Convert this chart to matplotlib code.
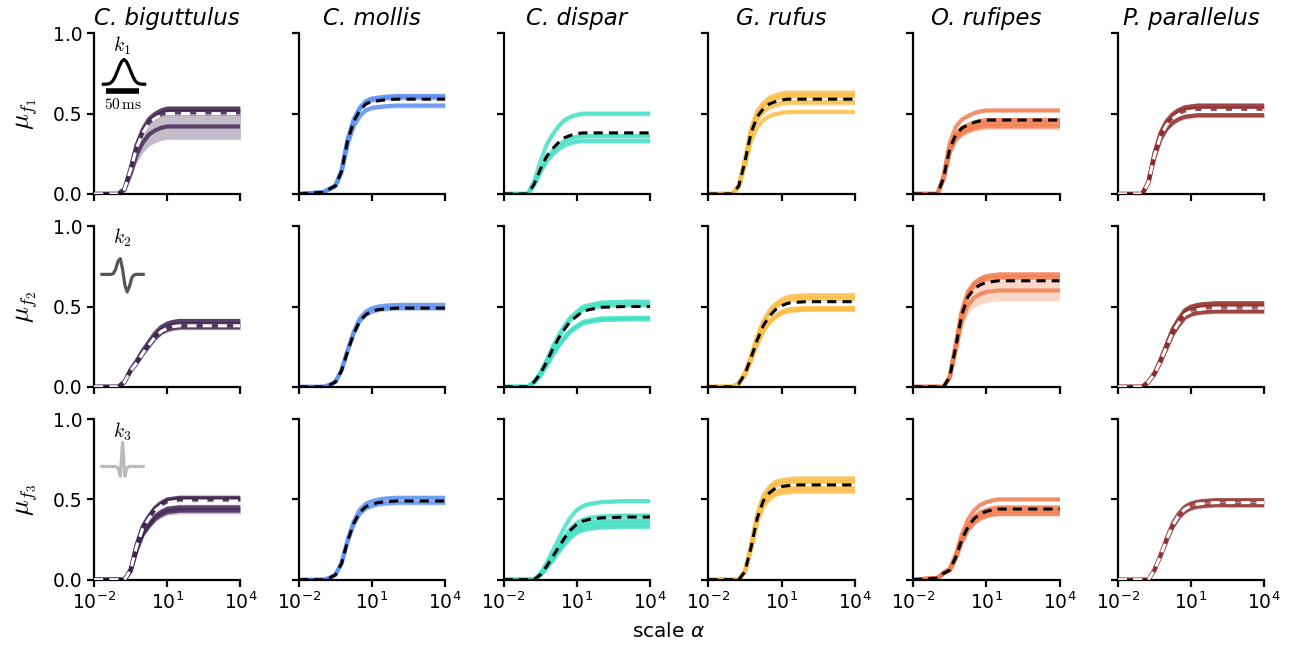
import numpy as np
import matplotlib.pyplot as plt

species = ['C. biguttulus', 'C. mollis', 'C. dispar', 'G. rufus', 'O. rufipes', 'P. parallelus']
colors = ['#402350', '#5b8ff0', '#40e0c4', '#fbbd45', '#f27b4e', '#8c2828']
mean_colors = ['white', 'black', 'black', 'black', 'black', 'white']

log_alpha = [-2, -1, -0.75, -0.5, -0.25, 0, 0.25, 0.5, 0.75, 1, 1.25, 1.5, 2, 3, 4]

# mean response per species, one list per feature row
mean_f1 = [
    [0, 0, 0.03, 0.15, 0.29, 0.38, 0.44, 0.47, 0.49, 0.50, 0.50, 0.50, 0.50, 0.50, 0.50],
    [0, 0.01, 0.03, 0.05, 0.14, 0.33, 0.45, 0.52, 0.56, 0.575, 0.58, 0.585, 0.59, 0.59, 0.59],
    [0, 0, 0.06, 0.15, 0.23, 0.28, 0.32, 0.35, 0.365, 0.375, 0.38, 0.38, 0.38, 0.38, 0.38],
    [0, 0, 0.05, 0.20, 0.38, 0.48, 0.53, 0.56, 0.575, 0.585, 0.59, 0.59, 0.59, 0.59, 0.59],
    [0, 0, 0.10, 0.28, 0.37, 0.41, 0.43, 0.445, 0.455, 0.46, 0.46, 0.46, 0.46, 0.46, 0.46],
    [0, 0, 0.07, 0.24, 0.36, 0.43, 0.47, 0.495, 0.51, 0.515, 0.52, 0.52, 0.52, 0.52, 0.52],
]
mean_f2 = [
    [0, 0, 0.03, 0.10, 0.15, 0.21, 0.26, 0.31, 0.345, 0.365, 0.375, 0.38, 0.38, 0.38, 0.38],
    [0, 0, 0.01, 0.03, 0.10, 0.22, 0.33, 0.41, 0.45, 0.47, 0.48, 0.485, 0.49, 0.49, 0.49],
    [0, 0, 0.03, 0.08, 0.15, 0.23, 0.30, 0.36, 0.41, 0.44, 0.47, 0.48, 0.495, 0.50, 0.50],
    [0, 0, 0.02, 0.08, 0.18, 0.29, 0.38, 0.44, 0.48, 0.505, 0.52, 0.525, 0.53, 0.53, 0.53],
    [0, 0, 0, 0.06, 0.25, 0.45, 0.56, 0.61, 0.635, 0.65, 0.655, 0.66, 0.66, 0.66, 0.66],
    [0, 0, 0.03, 0.08, 0.16, 0.25, 0.34, 0.40, 0.45, 0.47, 0.48, 0.485, 0.49, 0.49, 0.49],
]
mean_f3 = [
    [0, 0, 0, 0.06, 0.21, 0.32, 0.38, 0.43, 0.46, 0.48, 0.485, 0.49, 0.49, 0.49, 0.49],
    [0, 0, 0.01, 0.03, 0.10, 0.24, 0.35, 0.42, 0.455, 0.47, 0.48, 0.485, 0.49, 0.49, 0.49],
    [0, 0, 0, 0.03, 0.08, 0.14, 0.20, 0.26, 0.31, 0.345, 0.365, 0.375, 0.385, 0.39, 0.39],
    [0, 0, 0, 0.05, 0.20, 0.38, 0.49, 0.54, 0.57, 0.58, 0.585, 0.59, 0.59, 0.59, 0.59],
    [0, 0.01, 0.04, 0.06, 0.14, 0.25, 0.33, 0.38, 0.41, 0.425, 0.435, 0.44, 0.44, 0.44, 0.44],
    [0, 0, 0, 0.06, 0.15, 0.25, 0.34, 0.40, 0.44, 0.46, 0.47, 0.475, 0.48, 0.48, 0.48],
]

# plateau of each individual recording and the half width of its band
plateau_f1 = [[0.53, 0.51, 0.42], [0.61, 0.60, 0.55], [0.50, 0.36, 0.33],
              [0.63, 0.61, 0.57, 0.51], [0.52, 0.46, 0.44, 0.42], [0.55, 0.53, 0.49]]
spread_f1 = [[0.02, 0.02, 0.08], [0.015, 0.015, 0.015], [0.015, 0.015, 0.015],
             [0.015, 0.015, 0.02, 0.01], [0.01, 0.015, 0.02, 0.02], [0.015, 0.01, 0.015]]
plateau_f2 = [[0.41, 0.39, 0.37], [0.51, 0.49], [0.53, 0.51, 0.43, 0.42],
              [0.57, 0.55, 0.49, 0.48], [0.70, 0.68, 0.60], [0.52, 0.50, 0.47]]
spread_f2 = [[0.015, 0.015, 0.015], [0.015, 0.015], [0.015, 0.015, 0.01, 0.01],
             [0.015, 0.015, 0.015, 0.01], [0.015, 0.015, 0.065], [0.015, 0.01, 0.015]]
plateau_f3 = [[0.51, 0.50, 0.45, 0.43], [0.51, 0.48], [0.49, 0.40, 0.37, 0.35, 0.33],
              [0.63, 0.61, 0.57, 0.55], [0.50, 0.45, 0.43, 0.41], [0.495, 0.465]]
spread_f3 = [[0.015, 0.015, 0.02, 0.02], [0.015, 0.015], [0.012, 0.012, 0.012, 0.012, 0.012],
             [0.015, 0.015, 0.015, 0.015], [0.01, 0.015, 0.015, 0.015], [0.015, 0.015]]

# kernel sketches drawn in the first column
kernel_k1 = [0, 0, 0.01, 0.04, 0.12, 0.28, 0.5, 0.74, 0.92, 1.0, 0.92, 0.74, 0.5, 0.28, 0.12, 0.04, 0.01, 0, 0]
kernel_k2 = [0, 0, 0, 0, 0, 0.05, 0.3, 0.75, 0.9, 0.3, -0.6, -1.0, -0.7, -0.2, -0.03, 0, 0, 0, 0]
kernel_k3 = [0, 0, 0, 0, 0, 0, 0, -0.05, -0.4, 1.0, -0.4, -0.05, 0, 0, 0, 0, 0, 0, 0]
kernel_colors = ['black', '#555555', '#bbbbbb']

means = [mean_f1, mean_f2, mean_f3]
plateaus = [plateau_f1, plateau_f2, plateau_f3]
spreads = [spread_f1, spread_f2, spread_f3]
kernels = [kernel_k1, kernel_k2, kernel_k3]

x = 10.0 ** np.array(log_alpha)

fig, axes = plt.subplots(3, 6, figsize=(12.93, 6.48), dpi=100)
fig.subplots_adjust(left=0.0727, right=0.9778, top=0.9486, bottom=0.1054,
                    wspace=0.398, hspace=0.201)

for r in range(3):
    for c in range(6):
        ax = axes[r, c]
        m = np.array(means[r][c])
        for p, s in zip(plateaus[r][c], spreads[r][c]):
            y = m * p / m[-1]
            ax.fill_between(x, y * (1 - s / p), y * (1 + s / p), color=colors[c],
                            alpha=0.3, lw=0, zorder=1)
            ax.plot(x, y, color=colors[c], lw=3, alpha=0.8, zorder=2)
        ax.plot(x, m, color=mean_colors[c], lw=2.2, ls=(0, (3, 2)), zorder=3)

        ax.set_xscale('log')
        ax.set_xlim(1e-2, 1e4)
        ax.set_ylim(0, 1)
        ax.set_xticks([1e-2, 1e1, 1e4])
        ax.minorticks_off()
        ax.set_yticks([0, 0.5, 1.0])
        for side in ['top', 'right']:
            ax.spines[side].set_visible(False)
        for side in ['left', 'bottom']:
            ax.spines[side].set_linewidth(1.6)
        ax.tick_params(labelsize=13.5, length=5, width=1.6)
        if r < 2:
            ax.set_xticklabels([])
        if c > 0:
            ax.set_yticklabels([])
        if r == 0:
            ax.set_title(species[c], fontsize=16.5, style='italic', pad=6)
        if c == 0:
            ax.set_ylabel(r'$\mu_{f_%d}$' % (r + 1), fontsize=19, math_fontfamily='cm',
                          labelpad=9)

# kernel insets
inset_boxes = [[0.05, 0.66, 0.31, 0.2], [0.04, 0.58, 0.31, 0.24], [0.04, 0.63, 0.31, 0.24]]
inset_ylims = [(-0.15, 1.15), (-1.1, 1.1), (-0.5, 1.1)]
label_y = [0.92, 0.93, 0.92]
for r in range(3):
    ax = axes[r, 0]
    ins = ax.inset_axes(inset_boxes[r])
    ins.plot(kernels[r], color=kernel_colors[r], lw=2.3)
    ins.set_ylim(*inset_ylims[r])
    ins.axis('off')
    ax.text(0.19, label_y[r], r'$k_%d$' % (r + 1), transform=ax.transAxes,
            ha='center', va='center', fontsize=14, math_fontfamily='cm')

axes[0, 0].plot([0.08, 0.31], [0.64, 0.64], transform=axes[0, 0].transAxes,
                color='black', lw=4, solid_capstyle='butt', clip_on=False)
axes[0, 0].text(0.195, 0.555, r'$50\,\mathrm{ms}$', transform=axes[0, 0].transAxes,
                ha='center', va='center', fontsize=11, math_fontfamily='cm')

fig.text(0.517, 0.025, r'scale $\alpha$', ha='center', va='center', fontsize=14.5)

fig.savefig('out.png', dpi=100)
